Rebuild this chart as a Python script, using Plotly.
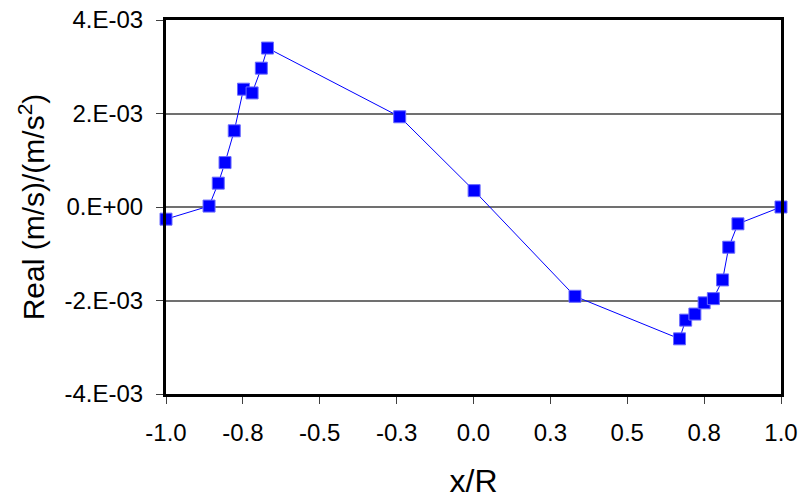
import plotly.graph_objects as go

# Radial position (x/R) and real part of the response
x_over_r = [-1.0, -0.860, -0.830, -0.808, -0.778, -0.748, -0.720, -0.690, -0.670,
            -0.240, 0.002, 0.330, 0.670, 0.690, 0.720, 0.750, 0.780, 0.810, 0.830,
            0.860, 1.0]
real_part = [-0.26e-3, 0.02e-3, 0.51e-3, 0.95e-3, 1.63e-3, 2.52e-3, 2.44e-3, 2.97e-3,
             3.40e-3, 1.93e-3, 0.35e-3, -1.91e-3, -2.82e-3, -2.42e-3, -2.29e-3,
             -2.05e-3, -1.96e-3, -1.56e-3, -0.86e-3, -0.36e-3, 0.0]

x_tick_vals = [-1.0, -0.75, -0.5, -0.25, 0.0, 0.25, 0.5, 0.75, 1.0]
x_tick_text = ["-1.0", "-0.8", "-0.5", "-0.3", "0.0", "0.3", "0.5", "0.8", "1.0"]
y_tick_vals = [-4e-3, -2e-3, 0.0, 2e-3, 4e-3]
y_tick_text = ["-4.E-03", "-2.E-03", "0.E+00", "2.E-03", "4.E-03"]

font_family = "Liberation Sans, Arial, sans-serif"

fig = go.Figure()
fig.add_trace(go.Scatter(
    x=x_over_r, y=real_part,
    mode="lines+markers",
    line=dict(color="#0000FF", width=1),
    marker=dict(symbol="square", size=12, color="#0000FF",
                line=dict(color="#6A6AFF", width=1)),
    showlegend=False,
    cliponaxis=False,
))

fig.update_layout(
    width=804, height=502,
    margin=dict(l=166, r=23, t=20, b=108),
    paper_bgcolor="white", plot_bgcolor="white",
    font=dict(family=font_family, size=24, color="black"),
    xaxis=dict(
        range=[-1.0, 1.0], automargin=False,
        tickvals=x_tick_vals, ticktext=x_tick_text,
        ticks="outside", ticklen=7, tickwidth=1, tickcolor="#404040",
        ticklabelstandoff=8,
        showline=True, linecolor="black", linewidth=3, mirror=True,
        showgrid=False, zeroline=False,
        tickfont=dict(size=24),
        title=dict(text="x/R", font=dict(size=32), standoff=25),
    ),
    yaxis=dict(
        range=[-4e-3, 4e-3], automargin=False,
        tickvals=y_tick_vals, ticktext=y_tick_text,
        ticks="outside", ticklen=7, tickwidth=1, tickcolor="#404040",
        ticklabelstandoff=8,
        showline=True, linecolor="black", linewidth=3, mirror=True,
        showgrid=True, gridcolor="#707070", gridwidth=1.5,
        zeroline=False,
        tickfont=dict(size=24),
        title=dict(text="Real (m/s)/(m/s<sup>2</sup>)", font=dict(size=30), standoff=11),
    ),
)

fig.write_html("out.html")
